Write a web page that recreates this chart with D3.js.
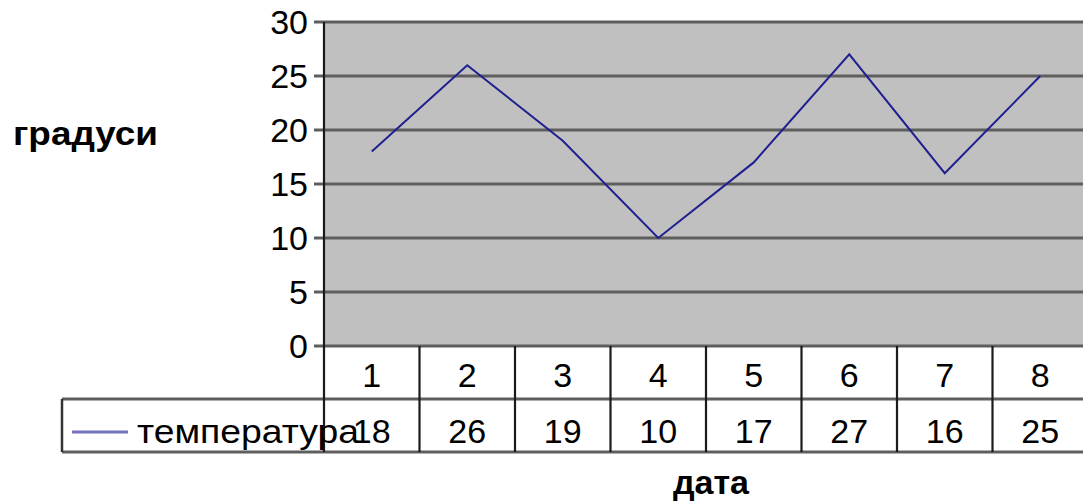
<!DOCTYPE html>
<html>
<head>
<meta charset="utf-8">
<script src="https://cdn.jsdelivr.net/npm/d3@7"></script>
<style>
  html, body { margin: 0; padding: 0; background: #fff; }
  svg { display: block; font-family: "Liberation Sans", Arial, sans-serif; }
</style>
</head>
<body>
<svg id="chart" width="1083" height="502"></svg>
<script>
const categories = ["1", "2", "3", "4", "5", "6", "7", "8"];
const temperature = [18, 26, 19, 10, 17, 27, 16, 25];
const yTicks = [0, 5, 10, 15, 20, 25, 30];
const seriesName = "температура";
const yTitle = "градуси";
const xTitle = "дата";

(function () {
const svg = d3.select("#chart");
const plotLeft = 324, plotTop = 22, plotBottom = 346, colW = 95.5;
const row1Bottom = 399, row2Bottom = 452;
const fs = 34;

const x = d3.scaleBand().domain(categories).range([plotLeft, plotLeft + colW * categories.length]).padding(0);
const y = d3.scaleLinear().domain([0, 30]).range([plotBottom, plotTop]);

// plot background
svg.append("rect").attr("x", plotLeft).attr("y", plotTop).attr("width", x.range()[1] - plotLeft).attr("height", plotBottom - plotTop).attr("fill", "#c0c0c0");

// gridlines + tick marks
svg.append("g").selectAll("line").data(yTicks).join("line")
  .attr("x1", plotLeft - 10).attr("x2", x.range()[1])
  .attr("y1", d => y(d)).attr("y2", d => y(d))
  .attr("stroke", "#5e5e5e").attr("stroke-width", 3);

// y tick labels
svg.append("g").selectAll("text").data(yTicks).join("text")
  .attr("x", 308).attr("y", d => y(d)).attr("dy", "0.36em")
  .attr("text-anchor", "end").attr("font-size", fs).attr("fill", "#000")
  .text(d => d);

// table horizontal lines
[row1Bottom, row2Bottom].forEach(yy => {
  svg.append("line").attr("x1", 62).attr("x2", x.range()[1])
    .attr("y1", yy).attr("y2", yy).attr("stroke", "#5e5e5e").attr("stroke-width", 3);
});
// legend box left edge
svg.append("line").attr("x1", 62).attr("x2", 62).attr("y1", row1Bottom).attr("y2", row2Bottom)
  .attr("stroke", "#333").attr("stroke-width", 2.5);

// vertical column lines (including y axis)
const bounds = categories.map(c => x(c)).concat([x.range()[1]]);
svg.append("g").selectAll("line").data(bounds).join("line")
  .attr("x1", d => d).attr("x2", d => d)
  .attr("y1", (d, i) => i === 0 ? plotTop : plotBottom).attr("y2", row2Bottom)
  .attr("stroke", "#1a1a1a").attr("stroke-width", 2.2);

// category labels
svg.append("g").selectAll("text").data(categories).join("text")
  .attr("x", d => x(d) + x.bandwidth() / 2).attr("y", 387)
  .attr("text-anchor", "middle").attr("font-size", fs).text(d => d);

// value labels
svg.append("g").selectAll("text").data(temperature).join("text")
  .attr("x", (d, i) => x(categories[i]) + x.bandwidth() / 2).attr("y", 443)
  .attr("text-anchor", "middle").attr("font-size", fs).text(d => d);

// legend key
svg.append("line").attr("x1", 72).attr("x2", 128).attr("y1", 432).attr("y2", 432)
  .attr("stroke", "#7272c0").attr("stroke-width", 3);
svg.append("text").attr("x", 137).attr("y", 443)
  .attr("font-size", fs).attr("textLength", 222).attr("lengthAdjust", "spacingAndGlyphs")
  .text(seriesName);

// series line
const line = d3.line().x((d, i) => x(categories[i]) + x.bandwidth() / 2).y(d => y(d));
svg.append("path").datum(temperature).attr("d", line)
  .attr("fill", "none").attr("stroke", "#1f1f8f").attr("stroke-width", 2);

// axis titles
svg.append("text").attr("x", 13).attr("y", 145)
  .attr("font-size", fs).attr("font-weight", "bold")
  .attr("textLength", 145).attr("lengthAdjust", "spacingAndGlyphs").text(yTitle);
svg.append("text").attr("x", 711).attr("y", 494)
  .attr("text-anchor", "middle").attr("font-size", fs).attr("font-weight", "bold").text(xTitle);
})();
</script>
</body>
</html>
